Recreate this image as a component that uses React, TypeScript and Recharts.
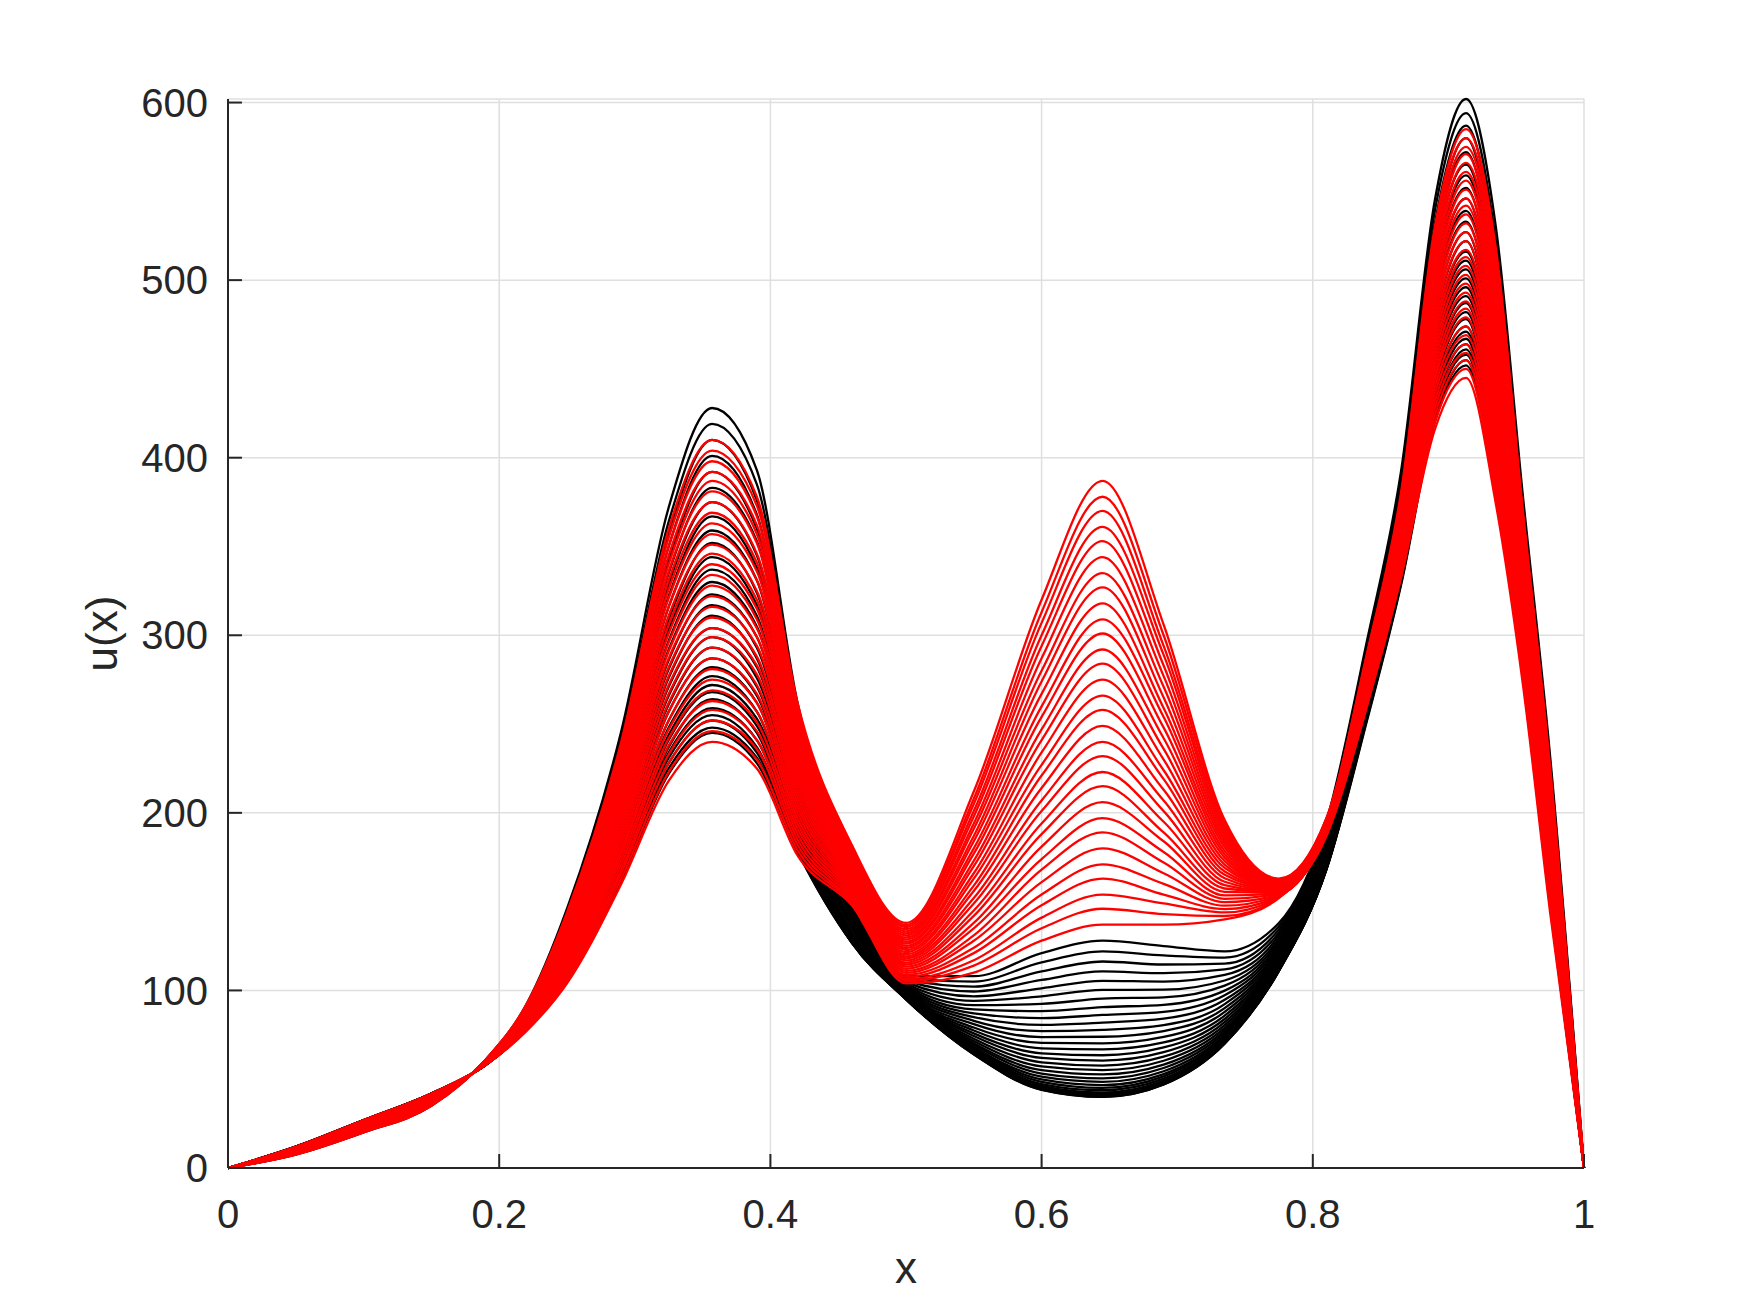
import { CartesianGrid, Line, LineChart, ReferenceLine, XAxis, YAxis } from "recharts";

const FONT = '"Liberation Sans", Arial, Helvetica, sans-serif';
const AXIS = "#262626";

// x positions where every curve is sampled
const X_GRID = [
  0, 0.05, 0.1, 0.15, 0.19, 0.22, 0.25, 0.29, 0.325, 0.357, 0.39, 0.42, 0.46, 0.5, 0.55, 0.6, 0.645,
  0.69, 0.735, 0.775, 0.81, 0.84, 0.865, 0.89, 0.913, 0.935, 0.955, 0.975, 1,
];
const X_TICKS = [0, 0.2, 0.4, 0.6, 0.8, 1];
const Y_TICKS = [0, 100, 200, 300, 400, 500, 600];
const Y_MAX = 602;

// one row per x position, one value per black curve
const BLACK_U: number[][] = [
  [0, 0, 0, 0, 0, 0, 0, 0, 0, 0, 0, 0, 0, 0, 0, 0, 0, 0, 0, 0, 0, 0, 0, 0, 0, 0, 0, 0, 0, 0],
  [7.5, 7.8, 8.1, 8.4, 8.7, 8.9, 9.2, 9.4, 9.6, 9.9, 10.1, 10.3, 10.5, 10.6, 10.8, 11.0, 11.1, 11.2, 11.4, 11.5, 11.6, 11.7, 11.7, 11.8, 11.9, 11.9, 12.0, 12.0, 12.0, 12.0],
  [20, 20.5, 20.9, 21.4, 21.8, 22.2, 22.6, 23.0, 23.3, 23.7, 24.0, 24.3, 24.6, 24.9, 25.1, 25.4, 25.6, 25.8, 26.0, 26.2, 26.3, 26.5, 26.6, 26.7, 26.8, 26.9, 26.9, 27.0, 27.0, 27.0],
  [35, 35.5, 35.9, 36.4, 36.8, 37.2, 37.6, 38.0, 38.3, 38.7, 39.0, 39.3, 39.6, 39.9, 40.1, 40.4, 40.6, 40.8, 41.0, 41.2, 41.3, 41.5, 41.6, 41.7, 41.8, 41.9, 41.9, 42.0, 42.0, 42.0],
  [61, 60.8, 60.6, 60.4, 60.2, 60.1, 59.9, 59.7, 59.6, 59.4, 59.3, 59.2, 59.0, 58.9, 58.8, 58.7, 58.6, 58.5, 58.4, 58.4, 58.3, 58.2, 58.2, 58.1, 58.1, 58.1, 58.0, 58.0, 58.0, 58.0],
  [92, 91.0, 90.1, 89.2, 88.4, 87.6, 86.8, 86.1, 85.3, 84.7, 84.0, 83.4, 82.8, 82.3, 81.7, 81.3, 80.8, 80.4, 80.0, 79.7, 79.3, 79.1, 78.8, 78.6, 78.4, 78.3, 78.1, 78.1, 78.0, 78.0],
  [146, 144.0, 142.0, 140.0, 138.1, 136.3, 134.4, 132.7, 131.0, 129.3, 127.7, 126.1, 124.6, 123.1, 121.7, 120.3, 119.0, 117.7, 116.5, 115.3, 114.1, 113.0, 112.0, 111.0, 110.0, 109.1, 108.3, 107.5, 106.7, 106.0],
  [246, 242, 238, 233, 229, 226, 222, 218, 214, 211, 208, 204, 201, 198, 195, 192, 189, 187, 184, 181, 179, 177, 175, 172, 170, 169, 167, 165, 163, 162],
  [372, 364, 357, 350, 342, 335, 329, 322, 316, 309, 303, 297, 292, 286, 281, 276, 271, 266, 261, 257, 252, 248, 244, 241, 237, 234, 231, 228, 225, 222],
  [428, 419, 410, 401, 392, 383, 375, 367, 359, 352, 344, 337, 330, 323, 317, 311, 304, 299, 293, 287, 282, 277, 272, 268, 264, 259, 255, 252, 248, 245],
  [393, 385, 376, 368, 360, 353, 345, 338, 331, 324, 317, 311, 305, 299, 293, 287, 282, 276, 271, 266, 262, 257, 253, 249, 245, 241, 237, 234, 231, 228],
  [262, 258, 254, 249, 245, 242, 238, 234, 230, 227, 224, 220, 217, 214, 211, 208, 205, 203, 200, 197, 195, 193, 191, 188, 186, 185, 183, 181, 179, 178],
  [172, 169, 166, 163, 160, 158, 155, 153, 151, 148, 146, 144, 142, 141, 139, 137, 136, 135, 133, 132, 131, 130, 130, 129, 128, 128, 127, 127, 127, 127],
  [108, 107.1, 106.3, 105.5, 104.7, 103.9, 103.2, 102.5, 101.8, 101.2, 100.6, 100.0, 99.5, 99.0, 98.5, 98.0, 97.6, 97.2, 96.9, 96.5, 96.3, 96.0, 95.8, 95.6, 95.4, 95.3, 95.1, 95.1, 95.0, 95.0],
  [108, 105.0, 102.1, 99.4, 96.7, 94.1, 91.7, 89.3, 87.1, 84.9, 82.9, 81.0, 79.1, 77.4, 75.8, 74.3, 72.8, 71.5, 70.3, 69.2, 68.2, 67.4, 66.6, 65.9, 65.3, 64.8, 64.5, 64.2, 64.0, 64.0],
  [121, 115.8, 110.7, 105.9, 101.2, 96.7, 92.4, 88.3, 84.4, 80.6, 77.1, 73.7, 70.5, 67.4, 64.6, 62.0, 59.5, 57.2, 55.1, 53.2, 51.4, 49.9, 48.5, 47.3, 46.3, 45.5, 44.8, 44.4, 44.1, 44.0],
  [128, 122.0, 116.3, 110.7, 105.4, 100.3, 95.4, 90.6, 86.2, 81.9, 77.8, 73.9, 70.2, 66.8, 63.5, 60.5, 57.7, 55.1, 52.7, 50.5, 48.5, 46.7, 45.1, 43.8, 42.6, 41.7, 40.9, 40.4, 40.1, 40.0],
  [125, 119.7, 114.6, 109.7, 105.0, 100.4, 96.1, 91.9, 87.9, 84.1, 80.5, 77.1, 73.8, 70.7, 67.9, 65.2, 62.7, 60.4, 58.2, 56.3, 54.5, 52.9, 51.6, 50.3, 49.3, 48.5, 47.8, 47.4, 47.1, 47.0],
  [122, 118.5, 115.1, 111.8, 108.7, 105.6, 102.7, 99.9, 97.3, 94.7, 92.3, 90.0, 87.9, 85.8, 83.9, 82.1, 80.5, 78.9, 77.5, 76.2, 75.0, 74.0, 73.0, 72.2, 71.5, 71.0, 70.6, 70.3, 70.1, 70.0],
  [138, 136.2, 134.4, 132.7, 131.1, 129.5, 128.0, 126.5, 125.2, 123.8, 122.6, 121.4, 120.3, 119.2, 118.2, 117.3, 116.4, 115.6, 114.9, 114.2, 113.6, 113.1, 112.6, 112.2, 111.8, 111.5, 111.3, 111.1, 111.0, 111.0],
  [195, 193.2, 191.4, 189.7, 188.1, 186.5, 185.0, 183.5, 182.2, 180.8, 179.6, 178.4, 177.3, 176.2, 175.2, 174.3, 173.4, 172.6, 171.9, 171.2, 170.6, 170.1, 169.6, 169.2, 168.8, 168.5, 168.3, 168.1, 168.0, 168.0],
  [297, 295, 292, 290, 288, 286, 284, 282, 280, 278, 276, 275, 273, 271, 270, 268, 267, 265, 264, 262, 261, 260, 259, 258, 257, 256, 255, 254, 253, 252],
  [392, 389, 386, 382, 379, 376, 374, 371, 368, 365, 363, 360, 358, 355, 353, 351, 349, 347, 345, 343, 341, 339, 338, 336, 334, 333, 332, 330, 329, 328],
  [545, 539, 532, 526, 520, 515, 509, 503, 498, 493, 488, 483, 478, 474, 469, 465, 461, 457, 453, 449, 445, 442, 439, 436, 433, 430, 427, 425, 422, 420],
  [602, 594, 587, 580, 572, 565, 559, 552, 546, 539, 533, 527, 522, 516, 511, 506, 501, 496, 491, 487, 482, 478, 474, 471, 467, 464, 461, 458, 455, 452],
  [530, 522, 515, 508, 500, 493, 487, 480, 474, 467, 461, 455, 450, 444, 439, 434, 429, 424, 419, 415, 410, 406, 402, 399, 395, 392, 389, 386, 383, 380],
  [378, 373, 368, 363, 358, 354, 349, 345, 340, 336, 332, 328, 324, 321, 317, 314, 310, 307, 304, 301, 298, 296, 293, 290, 288, 286, 284, 282, 280, 278],
  [232, 228, 224, 219, 215, 212, 208, 204, 200, 197, 194, 190, 187, 184, 181, 178, 175, 173, 170, 167, 165, 163, 161, 158, 156, 155, 153, 151, 149, 148],
  [0, 0, 0, 0, 0, 0, 0, 0, 0, 0, 0, 0, 0, 0, 0, 0, 0, 0, 0, 0, 0, 0, 0, 0, 0, 0, 0, 0, 0, 0],
];

// one row per x position, one value per red curve
const RED_U: number[][] = [
  [0, 0, 0, 0, 0, 0, 0, 0, 0, 0, 0, 0, 0, 0, 0, 0, 0, 0, 0, 0, 0, 0, 0, 0, 0, 0, 0, 0, 0, 0],
  [7.5, 7.7, 7.8, 8.0, 8.1, 8.3, 8.4, 8.6, 8.7, 8.9, 9.1, 9.2, 9.4, 9.5, 9.7, 9.8, 10.0, 10.1, 10.3, 10.4, 10.6, 10.8, 10.9, 11.1, 11.2, 11.4, 11.5, 11.7, 11.8, 12.0],
  [20.0, 20.2, 20.5, 20.7, 21.0, 21.2, 21.4, 21.7, 21.9, 22.2, 22.4, 22.7, 22.9, 23.1, 23.4, 23.6, 23.9, 24.1, 24.3, 24.6, 24.8, 25.1, 25.3, 25.6, 25.8, 26.0, 26.3, 26.5, 26.8, 27.0],
  [35.0, 35.2, 35.5, 35.7, 36.0, 36.2, 36.4, 36.7, 36.9, 37.2, 37.4, 37.7, 37.9, 38.1, 38.4, 38.6, 38.9, 39.1, 39.3, 39.6, 39.8, 40.1, 40.3, 40.6, 40.8, 41.0, 41.3, 41.5, 41.8, 42.0],
  [61.0, 60.9, 60.8, 60.7, 60.6, 60.5, 60.4, 60.3, 60.2, 60.1, 60.0, 59.9, 59.8, 59.7, 59.6, 59.4, 59.3, 59.2, 59.1, 59.0, 58.9, 58.8, 58.7, 58.6, 58.5, 58.4, 58.3, 58.2, 58.1, 58.0],
  [92.0, 91.5, 91.0, 90.4, 89.9, 89.4, 88.9, 88.4, 87.9, 87.3, 86.8, 86.3, 85.8, 85.3, 84.8, 84.2, 83.7, 83.2, 82.7, 82.2, 81.7, 81.1, 80.6, 80.1, 79.6, 79.1, 78.6, 78.0, 77.5, 77.0],
  [144.0, 142.6, 141.2, 139.9, 138.5, 137.1, 135.7, 134.3, 133.0, 131.6, 130.2, 128.8, 127.4, 126.1, 124.7, 123.3, 121.9, 120.6, 119.2, 117.8, 116.4, 115.0, 113.7, 112.3, 110.9, 109.5, 108.1, 106.8, 105.4, 104.0],
  [240, 237, 234, 232, 229, 226, 223, 221, 218, 215, 212, 210, 207, 204, 201, 199, 196, 193, 190, 188, 185, 182, 179, 177, 174, 171, 168, 166, 163, 160],
  [360, 355, 350, 345, 340, 336, 331, 326, 321, 316, 311, 306, 301, 296, 291, 287, 282, 277, 272, 267, 262, 257, 252, 247, 242, 238, 233, 228, 223, 218],
  [410, 404, 398, 392, 387, 381, 375, 369, 363, 357, 351, 346, 340, 334, 328, 322, 316, 310, 304, 299, 293, 287, 281, 275, 269, 263, 258, 252, 246, 240],
  [378, 373, 367, 362, 357, 352, 346, 341, 336, 331, 325, 320, 315, 309, 304, 299, 294, 288, 283, 278, 272, 267, 262, 257, 251, 246, 241, 236, 230, 225],
  [262, 259, 256, 253, 250, 247, 244, 241, 238, 235, 232, 229, 226, 223, 220, 218, 215, 212, 209, 206, 203, 200, 197, 194, 191, 188, 185, 182, 179, 176],
  [182.0, 180.8, 179.7, 178.5, 177.3, 176.1, 175.0, 173.8, 172.6, 171.4, 170.3, 169.1, 167.9, 166.8, 165.6, 164.4, 163.2, 162.1, 160.9, 159.7, 158.6, 157.4, 156.2, 155.0, 153.9, 152.7, 151.5, 150.3, 149.2, 148.0],
  [138.0, 136.8, 135.7, 134.5, 133.3, 132.1, 131.0, 129.8, 128.6, 127.4, 126.3, 125.1, 123.9, 122.8, 121.6, 120.4, 119.2, 118.1, 116.9, 115.7, 114.6, 113.4, 112.2, 111.0, 109.9, 108.7, 107.5, 106.3, 105.2, 104.0],
  [212, 208, 205, 201, 198, 194, 191, 187, 184, 180, 177, 173, 170, 166, 163, 159, 156, 152, 149, 145, 142, 138, 135, 131, 128, 124, 121, 117, 114, 110],
  [320, 313, 307, 300, 294, 287, 280, 274, 267, 260, 254, 247, 241, 234, 227, 221, 214, 207, 201, 194, 188, 181, 174, 168, 161, 154, 148, 141, 135, 128],
  [387, 378, 370, 361, 353, 344, 335, 327, 318, 309, 301, 292, 284, 275, 266, 258, 249, 240, 232, 223, 215, 206, 197, 189, 180, 171, 163, 154, 146, 137],
  [306, 300, 294, 289, 283, 277, 271, 265, 259, 254, 248, 242, 236, 230, 224, 219, 213, 207, 201, 195, 189, 184, 178, 172, 166, 160, 154, 149, 143, 137],
  [196.0, 194.1, 192.1, 190.2, 188.3, 186.3, 184.4, 182.5, 180.6, 178.6, 176.7, 174.8, 172.8, 170.9, 169.0, 167.0, 165.1, 163.2, 161.2, 159.3, 157.4, 155.5, 153.5, 151.6, 149.7, 147.7, 145.8, 143.9, 141.9, 140.0],
  [163.0, 162.6, 162.2, 161.9, 161.5, 161.1, 160.7, 160.3, 160.0, 159.6, 159.2, 158.8, 158.4, 158.1, 157.7, 157.3, 156.9, 156.6, 156.2, 155.8, 155.4, 155.0, 154.7, 154.3, 153.9, 153.5, 153.1, 152.8, 152.4, 152.0],
  [197.0, 196.7, 196.3, 196.0, 195.6, 195.3, 194.9, 194.6, 194.2, 193.9, 193.6, 193.2, 192.9, 192.5, 192.2, 191.8, 191.5, 191.1, 190.8, 190.4, 190.1, 189.8, 189.4, 189.1, 188.7, 188.4, 188.0, 187.7, 187.3, 187.0],
  [290.0, 289.0, 287.9, 286.9, 285.9, 284.8, 283.8, 282.8, 281.7, 280.7, 279.7, 278.6, 277.6, 276.6, 275.5, 274.5, 273.4, 272.4, 271.4, 270.3, 269.3, 268.3, 267.2, 266.2, 265.2, 264.1, 263.1, 262.1, 261.0, 260.0],
  [380, 378, 377, 375, 373, 372, 370, 368, 367, 365, 363, 362, 360, 358, 357, 355, 354, 352, 350, 349, 347, 345, 344, 342, 340, 339, 337, 335, 334, 332],
  [530, 526, 522, 518, 514, 510, 506, 502, 499, 495, 491, 487, 483, 479, 475, 471, 467, 463, 459, 455, 451, 447, 444, 440, 436, 432, 428, 424, 420, 416],
  [585, 580, 575, 571, 566, 561, 556, 551, 546, 542, 537, 532, 527, 522, 517, 513, 508, 503, 498, 493, 488, 484, 479, 474, 469, 464, 459, 455, 450, 445],
  [518, 513, 508, 503, 498, 493, 488, 483, 478, 473, 468, 463, 458, 453, 448, 444, 439, 434, 429, 424, 419, 414, 409, 404, 399, 394, 389, 384, 379, 374],
  [370, 367, 363, 360, 356, 353, 350, 346, 343, 340, 336, 333, 329, 326, 323, 319, 316, 313, 309, 306, 302, 299, 296, 292, 289, 286, 282, 279, 275, 272],
  [226, 223, 220, 218, 215, 212, 209, 206, 203, 201, 198, 195, 192, 189, 186, 184, 181, 178, 175, 172, 169, 167, 164, 161, 158, 155, 152, 150, 147, 144],
  [0, 0, 0, 0, 0, 0, 0, 0, 0, 0, 0, 0, 0, 0, 0, 0, 0, 0, 0, 0, 0, 0, 0, 0, 0, 0, 0, 0, 0, 0],
];

const CURVE_IDS = BLACK_U[0].map((_, k) => k);

const data = X_GRID.map((x, j) => {
  const row: Record<string, number> = { x };
  BLACK_U[j].forEach((v, k) => {
    row[`b${k}`] = v;
  });
  RED_U[j].forEach((v, k) => {
    row[`r${k}`] = v;
  });
  return row;
});

// MATLAB-style inward ticks, in data units (~14px)
const X_TICK_LEN = 7.9;
const Y_TICK_LEN = 0.0103;

const tickStyle = { fontSize: 40, fill: AXIS, fontFamily: FONT };

function XLabel(props: any) {
  const vb = props.viewBox ?? { x: 228, y: 1168, width: 1356, height: 130 };
  return (
    <text x={vb.x + vb.width / 2} y={vb.y + 115} textAnchor="middle" fontSize={44} fontFamily={FONT} fill={AXIS}>
      x
    </text>
  );
}

function YLabel(props: any) {
  const vb = props.viewBox ?? { x: 68, y: 99, width: 160, height: 1069 };
  const cx = vb.x + vb.width - 111;
  const cy = vb.y + vb.height / 2;
  return (
    <text
      x={cx}
      y={cy}
      transform={`rotate(-90, ${cx}, ${cy})`}
      textAnchor="middle"
      fontSize={44}
      fontFamily={FONT}
      fill={AXIS}
    >
      u(x)
    </text>
  );
}

export default function App() {
  return (
    <div style={{ position: "absolute", left: 0, top: 0, width: 1750, height: 1313, background: "#fff" }}>
      <LineChart width={1750} height={1313} data={data} margin={{ top: 99, right: 166, bottom: 15, left: 68 }}>
        <CartesianGrid stroke="#dfdfdf" strokeWidth={1.5} />
        <XAxis
          dataKey="x"
          type="number"
          domain={[0, 1]}
          ticks={X_TICKS}
          height={130}
          tickSize={32}
          tickMargin={0}
          tickLine={false}
          axisLine={{ stroke: AXIS, strokeWidth: 2 }}
          tick={tickStyle}
          label={XLabel}
        />
        <YAxis
          type="number"
          domain={[0, Y_MAX]}
          ticks={Y_TICKS}
          width={160}
          tickSize={20}
          tickMargin={0}
          tickLine={false}
          axisLine={{ stroke: AXIS, strokeWidth: 2 }}
          tick={tickStyle}
          label={YLabel}
        />
        {CURVE_IDS.map((k) => (
          <Line
            key={`b${k}`}
            dataKey={`b${k}`}
            type="monotone"
            stroke="#000000"
            strokeWidth={2.3}
            dot={false}
            activeDot={false}
            isAnimationActive={false}
          />
        ))}
        {CURVE_IDS.map((k) => (
          <Line
            key={`r${k}`}
            dataKey={`r${k}`}
            type="monotone"
            stroke="#ff0000"
            strokeWidth={2.3}
            dot={false}
            activeDot={false}
            isAnimationActive={false}
          />
        ))}
        {X_TICKS.map((t) => (
          <ReferenceLine
            key={`xt${t}`}
            segment={[
              { x: t, y: 0 },
              { x: t, y: X_TICK_LEN },
            ]}
            stroke={AXIS}
            strokeWidth={2}
          />
        ))}
        {Y_TICKS.map((t) => (
          <ReferenceLine
            key={`yt${t}`}
            segment={[
              { x: 0, y: t },
              { x: Y_TICK_LEN, y: t },
            ]}
            stroke={AXIS}
            strokeWidth={2}
          />
        ))}
      </LineChart>
    </div>
  );
}
